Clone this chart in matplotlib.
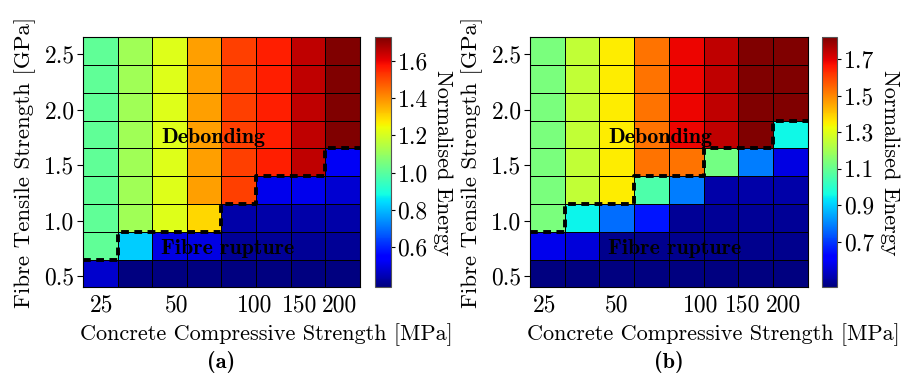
import numpy as np
import matplotlib
matplotlib.use('Agg')
import matplotlib.pyplot as plt

plt.rcParams['font.family'] = ['cmr10', 'DejaVu Serif']
plt.rcParams['mathtext.fontset'] = 'cm'
plt.rcParams['axes.formatter.use_mathtext'] = True

# cell edges: 8 concrete strengths (columns) x 9 fibre strengths (rows)
x_edges = [0, 1, 2, 3, 4, 5, 6, 7, 8]
y_edges = [0.4, 0.65, 0.9, 1.15, 1.4, 1.65, 1.9, 2.15, 2.4, 2.65]
x_tick_labels = ['25', '50', '100', '150', '200']
y_ticks = [0.5, 1.0, 1.5, 2.0, 2.5]

# normalised energy, bottom row first
energy_a = [
    [0.47, 0.38, 0.38, 0.38, 0.38, 0.38, 0.38, 0.38],
    [1.01, 0.82, 0.50, 0.50, 0.41, 0.41, 0.41, 0.41],
    [1.01, 1.115, 1.215, 1.30, 0.43, 0.43, 0.43, 0.43],
    [1.01, 1.115, 1.215, 1.377, 1.515, 0.51, 0.51, 0.48],
    [1.01, 1.115, 1.215, 1.377, 1.515, 1.565, 1.652, 0.52],
    [1.01, 1.115, 1.215, 1.377, 1.515, 1.565, 1.652, 1.73],
    [1.01, 1.115, 1.215, 1.377, 1.515, 1.565, 1.652, 1.73],
    [1.01, 1.115, 1.215, 1.377, 1.515, 1.565, 1.652, 1.73],
    [1.01, 1.115, 1.215, 1.377, 1.515, 1.565, 1.652, 1.73],
]
energy_b = [
    [0.45, 0.45, 0.45, 0.45, 0.45, 0.45, 0.45, 0.45],
    [0.58, 0.56, 0.47, 0.47, 0.47, 0.47, 0.47, 0.47],
    [1.13, 0.95, 0.77, 0.65, 0.48, 0.48, 0.48, 0.48],
    [1.13, 1.25, 1.35, 1.06, 0.79, 0.50, 0.50, 0.50],
    [1.13, 1.25, 1.35, 1.53, 1.53, 1.12, 0.79, 0.57],
    [1.13, 1.25, 1.35, 1.53, 1.69, 1.745, 1.82, 0.955],
    [1.13, 1.25, 1.35, 1.53, 1.69, 1.745, 1.82, 1.82],
    [1.13, 1.25, 1.35, 1.53, 1.69, 1.745, 1.82, 1.82],
    [1.13, 1.25, 1.35, 1.53, 1.69, 1.745, 1.82, 1.82],
]
# debonding / fibre rupture boundary (GPa) for each column
boundary_a = [0.65, 0.9, 0.9, 0.9, 1.15, 1.4, 1.4, 1.65]
boundary_b = [0.9, 1.15, 1.15, 1.4, 1.4, 1.65, 1.65, 1.9]

cbar_ticks_a = [0.6, 0.8, 1.0, 1.2, 1.4, 1.6]
cbar_ticks_b = [0.7, 0.9, 1.1, 1.3, 1.5, 1.7]
xtick_pos_a = [0.55, 2.71, 4.97, 6.27, 7.42]
xtick_pos_b = [0.41, 2.50, 4.92, 6.14, 7.29]

panels = [
    (energy_a, boundary_a, cbar_ticks_a, xtick_pos_a, '(a)',
     [0.0921, 0.2318, 0.3074, 0.6684], [0.4165, 0.2318, 0.0171, 0.6684], 0.296),
    (energy_b, boundary_b, cbar_ticks_b, xtick_pos_b, '(b)',
     [0.5882, 0.2318, 0.3082, 0.6684], [0.912, 0.2318, 0.0173, 0.6684], 0.792),
]

fig = plt.figure(figsize=(9.01, 3.74), dpi=100)

for energy, boundary, cticks, xpos, tag, ax_rect, cb_rect, xlab_x in panels:
    ax = fig.add_axes(ax_rect)
    cax = fig.add_axes(cb_rect)
    z = np.array(energy)
    mesh = ax.pcolormesh(x_edges, y_edges, z, cmap='jet',
                         edgecolors='black', linewidth=0.55)

    # stepped boundary line between the two failure modes
    bx = np.repeat(x_edges, 2)[1:-1]
    by = np.repeat(boundary, 2)
    ax.plot(bx, by, color='black', lw=2.8, ls=(0, (2.0, 1.4)), zorder=4,
            solid_capstyle='butt', dash_capstyle='butt')

    ax.set_xlim(x_edges[0], x_edges[-1])
    ax.set_ylim(y_edges[0], y_edges[-1])
    ax.set_xticks(xpos)
    ax.set_xticklabels(x_tick_labels)
    ax.tick_params(axis='x', length=0, pad=5, labelsize=17)
    ax.set_yticks(y_ticks)
    ax.set_yticklabels(['%.1f' % v for v in y_ticks])
    ax.tick_params(axis='y', length=4, width=0.8, labelsize=17, pad=2)
    ax.set_ylabel('Fibre Tensile Strength [GPa]', fontsize=16.5, labelpad=6)
    for s in ax.spines.values():
        s.set_linewidth(0.8)

    ax.text(2.25, 1.75, 'Debonding', family='cmb10', fontsize=15.8,
            va='center', ha='left', zorder=5)
    ax.text(2.25, 0.745, 'Fibre rupture', family='cmb10', fontsize=15.8,
            va='center', ha='left', zorder=5)

    cb = fig.colorbar(mesh, cax=cax)
    cb.set_ticks(cticks)
    cb.set_ticklabels(['%.1f' % v for v in cticks])
    cb.ax.tick_params(length=3, width=0.8, labelsize=17, pad=2)
    cb.outline.set_edgecolor('#555555')
    cb.set_label('Normalised Energy', rotation=270, fontsize=16, labelpad=18)

    fig.text(xlab_x, 0.104, 'Concrete Compressive Strength [MPa]',
             ha='center', va='center', fontsize=16)
    fig.text(ax_rect[0] + ax_rect[2] / 2, 0.033, tag, family='cmb10',
             ha='center', va='center', fontsize=16)

fig.savefig('out.png', dpi=100)
